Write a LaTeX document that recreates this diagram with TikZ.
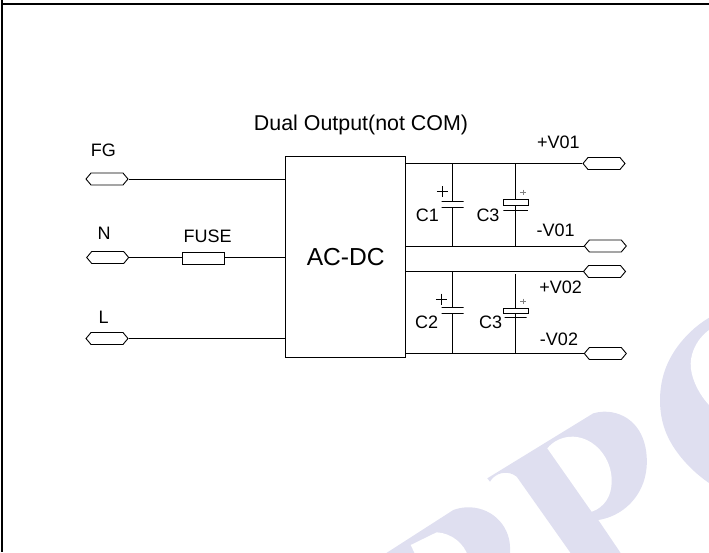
\documentclass[tikz,border=0pt]{standalone}
\usepackage{fontspec}
\setmainfont{Liberation Sans}
\usetikzlibrary{hobby, shapes.symbols}

\definecolor{markcol}{HTML}{DFDFF0}
\tikzset{
  port/.style={draw, signal, signal to=east and west, signal pointer angle=100,
    minimum width=42pt, minimum height=12pt, inner sep=0pt, line width=0.9pt},
  lbl/.style={inner sep=0pt, font=\fontsize{18}{20}\selectfont},
  plate/.style={draw, minimum width=22pt, minimum height=0pt, inner sep=0pt, line width=1.1pt},
  polbox/.style={draw, minimum width=25pt, inner sep=0pt, line width=0.9pt},
  plus/.style={line width=0.6pt},
  wire/.style={line width=1pt}
}

\begin{document}
\begin{tikzpicture}[x=1pt,y=-1pt,use Hobby shortcut]
    \useasboundingbox (0,0) rectangle (709,552);

    \begin{scope}
      \clip (0,0) rectangle (709,552);
      \fill [markcol] (381.7,556) -- (453.3,510) .. (466.7,507.3) .. (496.7,518) .. (510,546.7) -- (510,556) -- cycle;
      \fill [white] (410.7,545) -- (436.7,532.3) .. (456.7,540) .. (468,556) -- (416,556) -- cycle;
      \fill [markcol] (487.3,478.3) -- (593.3,413.3) .. (603.3,411.7) .. (633.3,423.3) .. (646.7,456.7) .. (641.7,486.7) .. (598.3,520) -- (622.7,556) -- (572.7,556) -- (516.7,476.7) .. (510,473.3) .. (490,481.7) -- cycle;
      \fill [white] (547.3,448.3) .. (573.3,436.7) .. (600,450) .. (611.7,481.7) .. (606.7,500) .. (591.7,511.7) -- cycle;
      \fill [markcol] (712,316) .. (680,343.3) .. (665,370) .. (660,400) .. (665,430) .. (683.3,460) .. (712,485) -- cycle;
      \fill [white] (712,328) .. (695,346.7) .. (690.7,363.3) .. (695,383.3) .. (712,408) -- cycle;
    \end{scope}

    \draw [line width=2pt] (2,0) -- (2,552) (2,4) -- (709,4);

    \node (title) [inner sep=0pt, font=\fontsize{21.4}{24}\selectfont] at (361,125) {Dual Output(not COM)};
    \node (acdc) [draw, line width=1pt, minimum width=120.5pt, minimum height=201.5pt, inner sep=0pt, font=\fontsize{24.6}{28}\selectfont] at (345.7,257.2) {AC-DC};

    \node (fg) [port] at (107,179) {};
    \node (n) [port] at (107.7,257.5) {};
    \node (l) [port] at (107,338.5) {};
    \node (fuse) [draw, line width=0.8pt, minimum width=42pt, minimum height=12.4pt, inner sep=0pt] at (203,258.5) {};

    \node (vo1) [port] at (604,163.5) {};
    \node (vm1) [port] at (605.3,246) {};
    \node (vo2) [port] at (604.5,271.5) {};
    \node (vm2) [port] at (605.3,353.5) {};

    \draw [wire] (fg.east) -- (acdc.west |- fg.east);
    \draw [wire] (n.east) -- (fuse.west |- n.east);
    \draw [wire] (fuse.east |- n.east) -- (acdc.west |- n.east);
    \draw [wire] (l.east) -- (acdc.west |- l.east);

    \draw [wire] (acdc.east |- vo1.west) -- (vo1.west);
    \draw [wire] (acdc.east |- vm1.west) -- (vm1.west);
    \draw [wire] (acdc.east |- vo2.west) -- (vo2.west);
    \draw [wire] (acdc.east |- vm2.west) -- (vm2.west);

    \coordinate (c1top) at (452.5,163.5);
    \coordinate (c1bot) at (452.5,246);
    \coordinate (c3top) at (515.5,163.5);
    \coordinate (c3bot) at (515.5,246);
    \coordinate (c2top) at (452.5,271.5);
    \coordinate (c2bot) at (452.5,353.5);
    \coordinate (c4top) at (515.5,274);
    \coordinate (c4bot) at (515.5,353.5);

    \node (c1a) [plate] at (452.5,201.5) {};
    \node (c1b) [plate] at (452.5,207.5) {};
    \node (c2a) [plate] at (452.5,307.5) {};
    \node (c2b) [plate] at (452.5,313.5) {};
    \node (c3a) [polbox, minimum height=6.3pt] at (515.5,202.2) {};
    \node (c3b) [plate, minimum width=24.5pt] at (515.5,210.5) {};
    \node (c4a) [polbox, minimum height=4.2pt] at (515.5,311) {};
    \node (c4b) [plate] at (515.5,317.5) {};

    \draw [wire] (c1top) -- (c1a.north);
    \draw [wire] (c1b.south) -- (c1bot);
    \draw [wire] (c2top) -- (c2a.north);
    \draw [wire] (c2b.south) -- (c2bot);
    \draw [wire] (c3top) -- (c3a.north);
    \draw [wire] (c3a.south) -- (c3b.north);
    \draw [wire] (c3b.south) -- (c3bot);
    \draw [wire] (c4top) -- (c4a.north);
    \draw [wire] (c4a.south) -- (c4b.north);
    \draw [wire] (c4b.south) -- (c4bot);

    \draw [plus] (436.8,191.7) -- (447.8,191.7) (442.3,186.2) -- (442.3,197.2);
    \draw [plus] (435.8,299) -- (446.8,299) (441.3,293.5) -- (441.3,304.5);
    \draw [plus, gray] (520.3,192.3) -- (525.7,192.3) (523,189.6) -- (523,195);
    \draw [plus, gray] (520.3,301.3) -- (525.7,301.3) (523,298.6) -- (523,304);

    \node (fglbl) [lbl] at (103.3,150) {FG};
    \node (nlbl) [lbl] at (104,233.3) {N};
    \node (llbl) [lbl] at (103.7,317.7) {L};
    \node (fuselbl) [lbl] at (207.7,236) {FUSE};
    \node (c1lbl) [lbl] at (427.3,215) {C1};
    \node (c3lbl) [lbl] at (488,215) {C3};
    \node (c2lbl) [lbl] at (426.7,322.3) {C2};
    \node (c4lbl) [lbl] at (490.7,322.3) {C3};
    \node (vo1lbl) [lbl] at (558.3,142.7) {+V01};
    \node (vm1lbl) [lbl] at (555.7,230) {-V01};
    \node (vo2lbl) [lbl] at (560.7,287.3) {+V02};
    \node (vm2lbl) [lbl] at (559,339.3) {-V02};
\end{tikzpicture}
\end{document}
